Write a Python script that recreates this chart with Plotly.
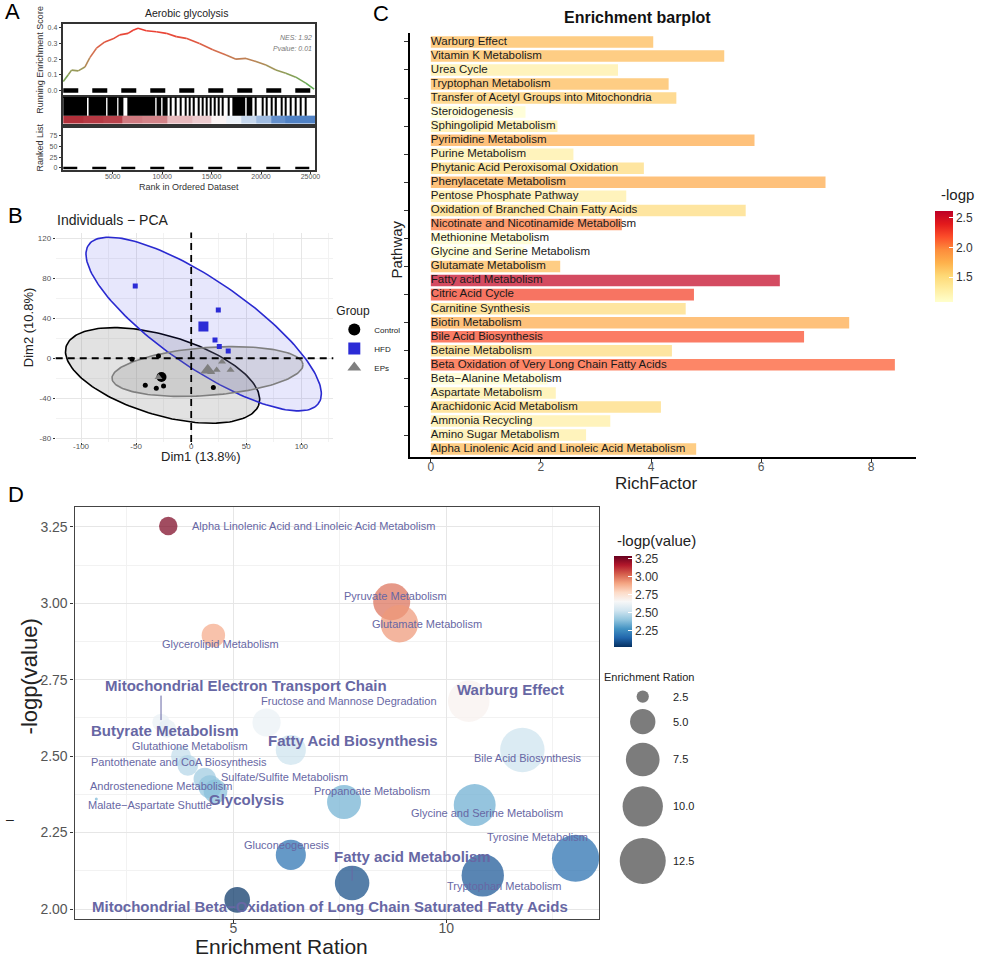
import numpy as np
import plotly.graph_objects as go
from plotly.colors import sample_colorscale

W, H = 991, 970
FONT = "Liberation Sans, Arial, sans-serif"

# ====================== DATA ======================
# ---- Panel A : GSEA (Aerobic glycolysis) ----
es_rank = [0, 504, 840, 1512, 2184, 2688, 3360, 4200, 5040, 5712, 6552, 7056, 7560, 8400,
           9408, 10416, 11424, 12432, 13776, 15120, 16464, 17472, 18480, 19488, 20496,
           21504, 22512, 23520, 24528, 25368]
es_score = [0.057, 0.10, 0.13, 0.125, 0.15, 0.21, 0.27, 0.31, 0.33, 0.355, 0.365, 0.385, 0.397,
            0.382, 0.375, 0.365, 0.344, 0.333, 0.30, 0.26, 0.227, 0.20, 0.205, 0.185, 0.163,
            0.131, 0.11, 0.085, 0.047, 0.009]
hit_start = [0, 2560, 4470, 5580, 6480, 9440, 10040, 10830, 11330, 11840, 12340, 12740, 13180,
             13620, 14020, 14420, 14860, 15300, 15700, 16100, 16640, 17100, 18550, 19400, 20070,
             20510, 21010, 21480, 21990, 22420, 22930, 23430, 23940, 24440]
hit_end = [2400, 4330, 5450, 6080, 9300, 9900, 10550, 10950, 11450, 11960, 12460, 12860, 13300,
           13740, 14140, 14540, 14980, 15420, 15820, 16220, 16760, 18400, 19120, 19520, 20190,
           20630, 21130, 21600, 22110, 22540, 23050, 23550, 24060, 24560]
metric_edges = [0, 2000, 4000, 6000, 8000, 10500, 13000, 15000, 16500, 18000, 19500, 21000, 22500, 25500]
metric_value = [1.0, 0.95, 0.9, 0.6, 0.55, 0.3, 0.22, 0.05, -0.1, -0.3, -0.5, -0.8, -0.9]
a_rank_ticks = [5000, 10000, 15000, 20000, 25000]
a_es_ticks = [0.0, 0.1, 0.2, 0.3, 0.4]
a_list_ticks = [0, 25, 50, 75]
nes_label = "NES: 1.92"
pval_label = "Pvalue: 0.01"

# ---- Panel B : PCA ----
groups = ["Control", "HFD", "EPs"]
ctrl_x = [-53.8, -29.7, -41.7, -31.7, -25.1, 20.1]
ctrl_y = [-1.0, 2.3, -27.0, -30.0, -27.7, -29.3]
hfd_x = [-50.8, 24.6, 12.0, 21.6, 25.5, 33.6]
hfd_y = [72.3, 48.3, 33.0, 18.3, 11.7, 7.3]
eps_x = [23.1, 35.7, -29.7, 18.0, 28.0]
eps_y = [-11.7, -11.7, -19.0, -14.0, -3.6]
# confidence ellipses: centre x, centre y, semi-major, semi-minor, angle (deg)
ell_cx = [-26.0, 11.3, 14.8]
ell_cy = [-17.2, 34.3, -13.3]
ell_a = [92.2, 131.2, 87.0]
ell_b = [39.6, 42.1, 24.0]
ell_ang = [-18.9, -37.8, 4.75]
b_x_ticks = [-100, -50, 0, 50, 100]
b_y_ticks = [-80, -40, 0, 40, 80, 120]

# ---- Panel C : Enrichment barplot ----
pathways_c = ["Warburg Effect", "Vitamin K Metabolism", "Urea Cycle", "Tryptophan Metabolism",
              "Transfer of Acetyl Groups into Mitochondria", "Steroidogenesis",
              "Sphingolipid Metabolism", "Pyrimidine Metabolism", "Purine Metabolism",
              "Phytanic Acid Peroxisomal Oxidation", "Phenylacetate Metabolism",
              "Pentose Phosphate Pathway", "Oxidation of Branched Chain Fatty Acids",
              "Nicotinate and Nicotinamide Metabolism", "Methionine Metabolism",
              "Glycine and Serine Metabolism", "Glutamate Metabolism", "Fatty acid Metabolism",
              "Citric Acid Cycle", "Carnitine Synthesis", "Biotin Metabolism",
              "Bile Acid Biosynthesis", "Betaine Metabolism",
              "Beta Oxidation of Very Long Chain Fatty Acids", "Beta\u2212Alanine Metabolism",
              "Aspartate Metabolism", "Arachidonic Acid Metabolism", "Ammonia Recycling",
              "Amino Sugar Metabolism", "Alpha Linolenic Acid and Linoleic Acid Metabolism"]
rich_factor = [4.04, 5.33, 3.40, 4.32, 4.46, 1.72, 2.30, 5.88, 2.59, 3.87, 7.17, 3.55, 5.72,
               3.47, 1.84, 1.69, 2.35, 6.34, 4.78, 4.63, 7.60, 6.78, 4.38, 8.43, 2.12, 2.27,
               4.18, 3.26, 2.82, 4.82]
neglogp_c = [1.70, 1.70, 1.30, 1.70, 1.60, 1.10, 1.30, 1.80, 1.30, 1.50, 1.80, 1.30, 1.50,
             2.05, 1.10, 1.10, 1.70, 2.58, 2.25, 1.50, 1.80, 2.20, 1.50, 2.15, 1.10, 1.30,
             1.50, 1.30, 1.30, 1.70]
c_x_ticks = [0, 2, 4, 6, 8]
c_cbar_ticks = [1.5, 2.0, 2.5]

# ---- Panel D : bubble plot ----
pathways_d = ["Alpha Linolenic Acid and Linoleic Acid Metabolism", "Pyruvate Metabolism",
              "Glutamate Metabolism", "Glycerolipid Metabolism", "Warburg Effect",
              "Fructose and Mannose Degradation", "Mitochondrial Electron Transport Chain",
              "Butyrate Metabolism", "Fatty Acid Biosynthesis", "Glutathione Metabolism",
              "Pantothenate and CoA Biosynthesis", "Sulfate/Sulfite Metabolism",
              "Androstenedione Metabolism", "Glycolysis", "Malate\u2212Aspartate Shuttle",
              "Propanoate Metabolism", "Bile Acid Biosynthesis", "Glycine and Serine Metabolism",
              "Gluconeogenesis", "Tyrosine Metabolism", "Fatty acid Metabolism",
              "Tryptophan Metabolism",
              "Mitochondrial Beta\u2212Oxidation of Long Chain Saturated Fatty Acids"]
enrich_ratio = [3.47, 8.72, 8.90, 4.53, 10.53, 5.78, 3.30, 3.44, 6.35, 3.77, 3.93, 4.33, 4.45,
                4.58, 1.78, 7.60, 11.79, 10.67, 6.35, 13.04, 7.79, 10.86, 5.09]
neglogp_d = [3.253, 3.005, 2.933, 2.895, 2.68, 2.61, 2.61, 2.59, 2.52, 2.50, 2.47, 2.425, 2.40,
             2.385, 2.36, 2.35, 2.52, 2.34, 2.177, 2.166, 2.085, 2.11, 2.03]
highlighted = ["Mitochondrial Electron Transport Chain", "Warburg Effect", "Butyrate Metabolism",
               "Fatty Acid Biosynthesis", "Glycolysis", "Fatty acid Metabolism",
               "Mitochondrial Beta\u2212Oxidation of Long Chain Saturated Fatty Acids"]
d_x_ticks = [5, 10]
d_y_ticks = [2.00, 2.25, 2.50, 2.75, 3.00, 3.25]
d_cbar_ticks = [2.25, 2.50, 2.75, 3.00, 3.25]
size_legend_values = [2.5, 5.0, 7.5, 10.0, 12.5]

# ====================== STYLE / LAYOUT HELPERS ======================
def xdom(a, b):
    return [a / W, b / W]

def ydom(top, bottom):
    return [1 - bottom / H, 1 - top / H]

annotations = []

def ann(text, px, py, size=12, color="#000", xanchor="center", yanchor="middle", angle=0, bold=False):
    annotations.append(dict(text=("<b>%s</b>" % text) if bold else text, x=px / W, y=1 - py / H,
                            xref="paper", yref="paper", showarrow=False, xanchor=xanchor,
                            yanchor=yanchor, textangle=angle,
                            font=dict(size=size, color=color, family=FONT)))

fig = go.Figure()

# ====================== PANEL A ======================
es_scale = [[0, "#4fae4f"], [0.35, "#9f985b"], [0.6, "#d3704f"], [1, "#ef3a30"]]
seg_mid = [min(1.0, max(0.0, (a + b) / 2 / 0.4)) for a, b in zip(es_score[:-1], es_score[1:])]
seg_cols = sample_colorscale(es_scale, seg_mid)
for i in range(len(es_rank) - 1):
    fig.add_trace(go.Scatter(x=es_rank[i:i + 2], y=es_score[i:i + 2], mode="lines",
                             line=dict(color=seg_cols[i], width=1.6), xaxis="x", yaxis="y",
                             showlegend=False, hoverinfo="skip"))
fig.add_trace(go.Scatter(x=[0, 25500], y=[0, 0], mode="lines",
                         line=dict(color="black", width=4.5, dash="15px,14px"),
                         xaxis="x", yaxis="y", showlegend=False, hoverinfo="skip"))
# ranked-list colour strip
fig.add_trace(go.Heatmap(x=metric_edges, y=[0, 0.3], z=[metric_value], zmin=-1, zmax=1,
                         colorscale=[[0, "rgb(60,115,190)"], [0.25, "rgb(160,188,225)"],
                                     [0.5, "rgb(255,255,255)"], [0.75, "rgb(215,140,145)"],
                                     [1, "rgb(178,48,58)"]],
                         showscale=False, xaxis="x2", yaxis="y2", hoverinfo="skip"))
# hits
fig.add_trace(go.Bar(orientation="h", y=[0.65] * len(hit_start),
                     x=[e - s for s, e in zip(hit_start, hit_end)], base=hit_start, width=0.7,
                     marker=dict(color="black", line=dict(width=0)), xaxis="x2", yaxis="y2",
                     showlegend=False, hoverinfo="skip"))
fig.add_trace(go.Scatter(x=[0, 25500], y=[0, 0], mode="lines",
                         line=dict(color="black", width=2.5, dash="14px,15px"),
                         xaxis="x3", yaxis="y3", showlegend=False, hoverinfo="skip"))

box = dict(showline=True, mirror=True, linecolor="#333", linewidth=2, showgrid=False, zeroline=False)
a_tickfont = dict(size=7, color="#555", family=FONT)

# ====================== PANEL B ======================
group_cols = ["black", "#2b2bd6", "#7f7f7f"]
ell_fill = ["rgba(140,140,140,0.25)", "rgba(60,60,230,0.12)", "rgba(130,130,130,0.22)"]
ell_line = ["black", "#2a2ad0", "#7f7f7f"]
tt = np.linspace(0, 2 * np.pi, 181)
for k in range(3):
    th = np.deg2rad(ell_ang[k])
    ex = ell_cx[k] + ell_a[k] * np.cos(tt) * np.cos(th) - ell_b[k] * np.sin(tt) * np.sin(th)
    ey = ell_cy[k] + ell_a[k] * np.cos(tt) * np.sin(th) + ell_b[k] * np.sin(tt) * np.cos(th)
    fig.add_trace(go.Scatter(x=ex, y=ey, mode="lines", fill="toself", fillcolor=ell_fill[k],
                             line=dict(color=ell_line[k], width=1.6), xaxis="x4", yaxis="y4",
                             showlegend=False, hoverinfo="skip"))

pts = [(ctrl_x, ctrl_y, "circle"), (hfd_x, hfd_y, "square"), (eps_x, eps_y, "triangle-up")]
for k, (px_, py_, sym) in enumerate(pts):
    fig.add_trace(go.Scatter(x=px_, y=py_, mode="markers", name=groups[k],
                             marker=dict(symbol=sym, size=5 if sym != "triangle-up" else 7,
                                         color=group_cols[k]),
                             xaxis="x4", yaxis="y4", showlegend=True, legend="legend"))
    fig.add_trace(go.Scatter(x=[float(np.mean(px_))], y=[float(np.mean(py_))], mode="markers",
                             marker=dict(symbol=sym, size=10 if sym != "triangle-up" else 13,
                                         color=group_cols[k]),
                             xaxis="x4", yaxis="y4", showlegend=False, hoverinfo="skip"))

b_tickfont = dict(size=8, color="#555", family=FONT)

# ====================== PANEL C ======================
ylorrd = ["#ffffcc", "#ffeda0", "#fed976", "#feb24c", "#fd8d3c", "#fc4e2a", "#e31a1c", "#bd0026"]
c_scale = [[i / (len(ylorrd) - 1), c] for i, c in enumerate(ylorrd)]
fig.add_trace(go.Bar(orientation="h", y=pathways_c, x=rich_factor, width=0.82,
                     marker=dict(color=neglogp_c, colorscale=c_scale, cmin=1.09, cmax=2.62,
                                 opacity=0.72, line=dict(width=0),
                                 colorbar=dict(x=940 / W, xanchor="left", y=1 - 211 / H,
                                               yanchor="top", len=91 / H, lenmode="fraction",
                                               xpad=0, ypad=0,
                                               thickness=18, outlinewidth=0,
                                               tickvals=c_cbar_ticks, ticktext=["1.5", "2.0", "2.5"],
                                               ticks="inside", tickcolor="white", ticklen=4,
                                               tickfont=dict(size=12, color="#333", family=FONT))),
                     xaxis="x5", yaxis="y5", showlegend=False, hoverinfo="skip"))
fig.add_trace(go.Scatter(x=[0] * len(pathways_c), y=pathways_c, mode="text", text=pathways_c,
                         textposition="middle right",
                         textfont=dict(size=11.5, color="#1a1a1a", family=FONT),
                         xaxis="x5", yaxis="y5", showlegend=False, hoverinfo="skip",
                         cliponaxis=False))

# ====================== PANEL D ======================
rdbu = ["#053061", "#2166ac", "#4393c3", "#92c5de", "#d1e5f0", "#f7f7f7", "#fddbc7",
        "#f4a582", "#d6604d", "#b2182b", "#67001f"]
d_scale = [[i / (len(rdbu) - 1), c] for i, c in enumerate(rdbu)]
v_min = min(enrich_ratio)

def bubble_px(v, dmin=3.0, vref=12.5, dref=46.0):
    v = np.asarray(v, dtype=float)
    return np.sqrt(dmin ** 2 + (dref ** 2 - dmin ** 2) * (v - v_min) / (vref - v_min))

fig.add_trace(go.Scatter(x=enrich_ratio, y=neglogp_d, mode="markers",
                         marker=dict(size=bubble_px(enrich_ratio), color=neglogp_d,
                                     colorscale=d_scale, cmin=2.02, cmax=3.29, opacity=0.72,
                                     line=dict(width=0),
                                     colorbar=dict(x=617 / W, xanchor="left", y=1 - 557 / H,
                                                   yanchor="top", len=91 / H, lenmode="fraction",
                                                   xpad=0, ypad=0,
                                                   thickness=18, outlinewidth=0,
                                                   tickvals=d_cbar_ticks,
                                                   ticktext=["2.25", "2.50", "2.75", "3.00", "3.25"],
                                                   ticks="inside", tickcolor="white", ticklen=4,
                                                   tickfont=dict(size=12, color="#333", family=FONT))),
                         xaxis="x6", yaxis="y6", showlegend=False, hoverinfo="skip"))

# repelled label positions (data units of panel D)
label_pos = {
    "Alpha Linolenic Acid and Linoleic Acid Metabolism": (6.89, 3.253),
    "Pyruvate Metabolism": (8.82, 3.025),
    "Glutamate Metabolism": (9.54, 2.933),
    "Glycerolipid Metabolism": (4.70, 2.868),
    "Mitochondrial Electron Transport Chain": (5.29, 2.731),
    "Warburg Effect": (11.50, 2.718),
    "Fructose and Mannose Degradation": (7.71, 2.679),
    "Butyrate Metabolism": (3.40, 2.585),
    "Fatty Acid Biosynthesis": (7.79, 2.552),
    "Glutathione Metabolism": (3.97, 2.533),
    "Bile Acid Biosynthesis": (11.91, 2.495),
    "Pantothenate and CoA Biosynthesis": (3.73, 2.480),
    "Sulfate/Sulfite Metabolism": (6.195, 2.431),
    "Androstenedione Metabolism": (3.29, 2.401),
    "Propanoate Metabolism": (8.25, 2.385),
    "Glycolysis": (5.32, 2.359),
    "Malate\u2212Aspartate Shuttle": (3.05, 2.339),
    "Glycine and Serine Metabolism": (10.96, 2.313),
    "Tyrosine Metabolism": (12.14, 2.235),
    "Gluconeogenesis": (6.27, 2.209),
    "Fatty acid Metabolism": (9.20, 2.173),
    "Tryptophan Metabolism": (11.36, 2.075),
    "Mitochondrial Beta\u2212Oxidation of Long Chain Saturated Fatty Acids": (7.26, 2.007),
}
lab_col = "#6767a4"
for name, er, lp in zip(pathways_d, enrich_ratio, neglogp_d):
    lx, ly = label_pos[name]
    bold = name in highlighted
    annotations.append(dict(text=("<b>%s</b>" % name) if bold else name, x=lx, y=ly,
                            xref="x6", yref="y6", showarrow=False, xanchor="center",
                            yanchor="middle",
                            font=dict(size=15 if bold else 11, color=lab_col, family=FONT)))
    if abs(ly - lp) > 0.08 and bold:
        fig.add_trace(go.Scatter(x=[er, er], y=[ly - 0.033, lp + 0.008], mode="lines",
                                 line=dict(color=lab_col, width=1), xaxis="x6", yaxis="y6",
                                 showlegend=False, hoverinfo="skip"))

# size legend (pixel-space axis)
leg_d = bubble_px(size_legend_values)
leg_y = [698.0]
for i in range(1, len(leg_d)):
    leg_y.append(leg_y[-1] + (leg_d[i - 1] + leg_d[i]) / 2 + 0.25 * leg_d[i])
fig.add_trace(go.Scatter(x=[646] * len(leg_d), y=leg_y, mode="markers",
                         marker=dict(size=leg_d, color="#444", line=dict(width=0)),
                         xaxis="x7", yaxis="y7", showlegend=False, hoverinfo="skip"))
for v, yy in zip(size_legend_values, leg_y):
    ann("%.1f" % v, 674, yy, size=11, color="#222", xanchor="left")

# ====================== TEXT ======================
ann("A", 13, 12, size=22)
ann("B", 16, 216, size=22)
ann("C", 383, 14, size=22)
ann("D", 16, 496, size=22)
ann("Aerobic glycolysis", 187, 13, size=10.5, color="#222")
annotations.append(dict(text="<i>%s</i>" % nes_label, x=316 / W, y=1 - 32 / H, xref="paper",
                        yref="paper", showarrow=False, xanchor="right",
                        font=dict(size=7, color="#777", family=FONT)))
annotations.append(dict(text="<i>%s</i>" % pval_label, x=316 / W, y=1 - 43 / H, xref="paper",
                        yref="paper", showarrow=False, xanchor="right",
                        font=dict(size=7, color="#777", family=FONT)))
ann("Running Enrichment Score", 40, 60, size=9, color="#333", angle=-90)
ann("Ranked List", 40, 148, size=9, color="#333", angle=-90)
ann("Rank in Ordered Dataset", 190, 187, size=9, color="#333")
ann("Individuals \u2212 PCA", 55, 220, size=14, color="#222", xanchor="left")
ann("Dim2 (10.8%)", 28, 328, size=13, color="#222", angle=-90)
ann("Dim1 (13.8%)", 202, 457, size=13, color="#222")
ann("Enrichment barplot", 641, 18, size=16, color="#111", bold=True)
ann("Pathway", 398, 250, size=15, color="#222", angle=-90)
ann("RichFactor", 660, 484, size=17, color="#222")
ann("-logp", 962, 195, size=15, color="#222")
ann("-logp(value)", 660, 542, size=15, color="#222")
ann("Enrichment Ration", 653, 678, size=11, color="#222")
ann("-logp(value)", 30, 678, size=22, color="#222", angle=-90)
ann("Enrichment Ration", 283, 948, size=21, color="#222")
ann("\u2013", 10, 821, size=14, color="#222")

# ====================== LAYOUT ======================
grid_major = "#e6e6e6"
grid_minor = "#f2f2f2"
fig.update_layout(
    width=W, height=H, margin=dict(l=0, r=0, t=0, b=0),
    paper_bgcolor="white", plot_bgcolor="white",
    font=dict(family=FONT),
    barmode="overlay",
    showlegend=True,
    legend=dict(x=336 / W, y=1 - 300 / H, xanchor="left", yanchor="top",
                title=dict(text="Group", font=dict(size=12, color="#222", family=FONT)),
                font=dict(size=8, color="#222", family=FONT), itemsizing="constant",
                bgcolor="rgba(0,0,0,0)", tracegroupgap=0),
    annotations=annotations,
    # Panel A
    xaxis=dict(domain=xdom(63, 317), anchor="y", range=[-60, 25500], showticklabels=False,
               ticks="", **box),
    yaxis=dict(domain=ydom(24, 96), anchor="x", range=[-0.034, 0.425], tickvals=a_es_ticks,
               ticktext=["%.1f" % v for v in a_es_ticks], tickfont=a_tickfont, ticks="outside",
               ticklen=2, tickcolor="#333", **box),
    xaxis2=dict(domain=xdom(63, 317), anchor="y2", range=[-60, 25500], showticklabels=False,
                ticks="", **box),
    yaxis2=dict(domain=ydom(97, 124), anchor="x2", range=[0, 1], showticklabels=False,
                ticks="", **box),
    xaxis3=dict(domain=xdom(63, 317), anchor="y3", range=[-60, 25500], tickvals=a_rank_ticks,
                ticktext=[str(v) for v in a_rank_ticks], tickfont=a_tickfont, ticks="outside",
                ticklen=2, tickcolor="#333", ticklabelstandoff=-3, **box),
    yaxis3=dict(domain=ydom(128, 170), anchor="x3", range=[-3.9, 92.6], tickvals=a_list_ticks,
                ticktext=[str(v) for v in a_list_ticks], tickfont=a_tickfont, ticks="outside",
                ticklen=2, tickcolor="#333", **box),
    # Panel B
    xaxis4=dict(domain=xdom(56, 335), anchor="y4", range=[-123, 129], tickvals=b_x_ticks,
                ticktext=[str(v) for v in b_x_ticks], tickfont=b_tickfont, showgrid=True,
                gridcolor=grid_major, zeroline=False, showline=False, ticks="outside",
                ticklen=2, tickcolor="#333", ticklabelstandoff=-6,
                minor=dict(tickvals=[-125, -75, -25, 25, 75, 125], showgrid=True,
                           gridcolor=grid_minor, ticks="")),
    yaxis4=dict(domain=ydom(233, 443), anchor="x4", range=[-84, 126], tickvals=b_y_ticks,
                ticktext=[str(v) for v in b_y_ticks], tickfont=b_tickfont, showgrid=True,
                gridcolor=grid_major, zeroline=False, showline=False, ticks="outside",
                ticklen=2, tickcolor="#333",
                minor=dict(tickvals=[-60, -20, 20, 60, 100], showgrid=True,
                           gridcolor=grid_minor, ticks="")),
    # Panel C
    xaxis5=dict(domain=xdom(412, 921), anchor="y5", range=[-0.38, 8.82], tickvals=c_x_ticks,
                ticktext=[str(v) for v in c_x_ticks],
                tickfont=dict(size=12, color="#555", family=FONT), showgrid=False,
                zeroline=False, showline=True, linecolor="black", linewidth=1.8,
                ticks="outside", ticklen=4, tickcolor="#333", ticklabelstandoff=-6),
    yaxis5=dict(domain=ydom(33, 458), anchor="x5", type="category", categoryorder="array",
                categoryarray=pathways_c, range=[29.57, -0.64], showticklabels=False,
                showgrid=False, zeroline=False, showline=True, linecolor="black",
                linewidth=1.8, ticks="outside", ticklen=4, tickcolor="#333"),
    # Panel D
    xaxis6=dict(domain=xdom(75, 602), anchor="y6", range=[1.27, 13.59], tickvals=d_x_ticks,
                ticktext=[str(v) for v in d_x_ticks],
                tickfont=dict(size=14, color="#555", family=FONT), showgrid=True,
                gridcolor=grid_major, gridwidth=1.3, zeroline=False, showline=True, mirror=True,
                linecolor="#444", linewidth=1.3, ticks="outside", ticklen=3, tickcolor="#333",
                ticklabelstandoff=-7,
                minor=dict(tickvals=[2.5, 7.5, 12.5], showgrid=True, gridcolor=grid_minor,
                           ticks="")),
    yaxis6=dict(domain=ydom(508, 921), anchor="x6", range=[1.967, 3.315], tickvals=d_y_ticks,
                ticktext=["%.2f" % v for v in d_y_ticks],
                tickfont=dict(size=14, color="#555", family=FONT), showgrid=True,
                gridcolor=grid_major, gridwidth=1.3, zeroline=False, showline=True, mirror=True,
                linecolor="#444", linewidth=1.3, ticks="outside", ticklen=3, tickcolor="#333",
                minor=dict(tickvals=[2.125, 2.375, 2.625, 2.875, 3.125], showgrid=True,
                           gridcolor=grid_minor, ticks="")),
    # size legend canvas (pixel coordinates)
    xaxis7=dict(domain=xdom(606, 720), anchor="y7", range=[606, 720], visible=False),
    yaxis7=dict(domain=ydom(684, 892), anchor="x7", range=[892, 684], visible=False),
    shapes=[
        dict(type="line", xref="x4", yref="y4 domain", x0=0, x1=0, y0=0, y1=1,
             line=dict(color="black", width=1.8, dash="7px,5px")),
        dict(type="line", xref="x4 domain", yref="y4", x0=0, x1=1, y0=0, y1=0,
             line=dict(color="black", width=1.8, dash="7px,5px")),
    ],
)

fig.write_html("out.html", config={"displayModeBar": False},
               post_script="document.body.style.margin='0';document.body.style.overflow='hidden';")
